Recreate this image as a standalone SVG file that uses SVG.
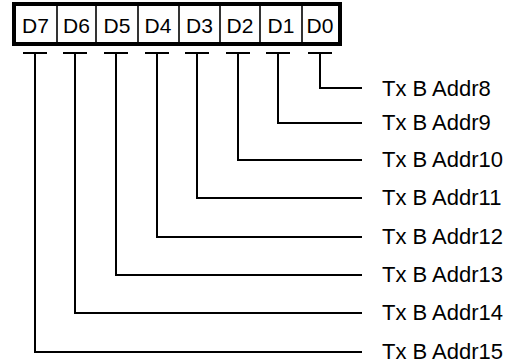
<svg xmlns="http://www.w3.org/2000/svg" width="513" height="363" viewBox="0 0 513 363">
<style>
.cell{font-family:"Liberation Sans",Arial,sans-serif;font-size:21px;fill:#000;text-anchor:middle}
.lbl{font-family:"Liberation Sans",Arial,sans-serif;font-size:22px;fill:#000}
.w{fill:none;stroke:#000;stroke-width:2}
.div{stroke:#000;stroke-width:1.6}
</style>
<rect width="513" height="363" fill="#fff"/>
<g id="register">
<rect x="14" y="4" width="326" height="40" fill="#fff" stroke="#000" stroke-width="4"/>
<line class="div" x1="57" y1="6" x2="57" y2="42"/>
<line class="div" x1="96" y1="6" x2="96" y2="42"/>
<line class="div" x1="138" y1="6" x2="138" y2="42"/>
<line class="div" x1="179" y1="6" x2="179" y2="42"/>
<line class="div" x1="220" y1="6" x2="220" y2="42"/>
<line class="div" x1="260" y1="6" x2="260" y2="42"/>
<line class="div" x1="302" y1="6" x2="302" y2="42"/>
<text class="cell" x="35.5" y="33">D7</text>
<text class="cell" x="76.5" y="33">D6</text>
<text class="cell" x="117" y="33">D5</text>
<text class="cell" x="158" y="33">D4</text>
<text class="cell" x="199.5" y="33">D3</text>
<text class="cell" x="240" y="33">D2</text>
<text class="cell" x="281" y="33">D1</text>
<text class="cell" x="320" y="33">D0</text>
</g>
<g id="connectors">
<path class="w" d="M23 53H47M35 53V352H362"/>
<path class="w" d="M63 53H87M75 53V313H362"/>
<path class="w" d="M104 53H128M116 53V275H362"/>
<path class="w" d="M145 53H169M157 53V237H362"/>
<path class="w" d="M185 53H209M197 53V198H362"/>
<path class="w" d="M226 53H250M238 53V160H362"/>
<path class="w" d="M266 53H290M278 53V123H362"/>
<path class="w" d="M308 53H332M320 53V88H362"/>
</g>
<g id="labels">
<text class="lbl" x="382" y="96">Tx B Addr8</text>
<text class="lbl" x="382" y="130">Tx B Addr9</text>
<text class="lbl" x="382" y="167">Tx B Addr10</text>
<text class="lbl" x="382" y="205">Tx B Addr11</text>
<text class="lbl" x="382" y="244">Tx B Addr12</text>
<text class="lbl" x="382" y="282">Tx B Addr13</text>
<text class="lbl" x="382" y="320">Tx B Addr14</text>
<text class="lbl" x="382" y="359">Tx B Addr15</text>
</g>
</svg>
